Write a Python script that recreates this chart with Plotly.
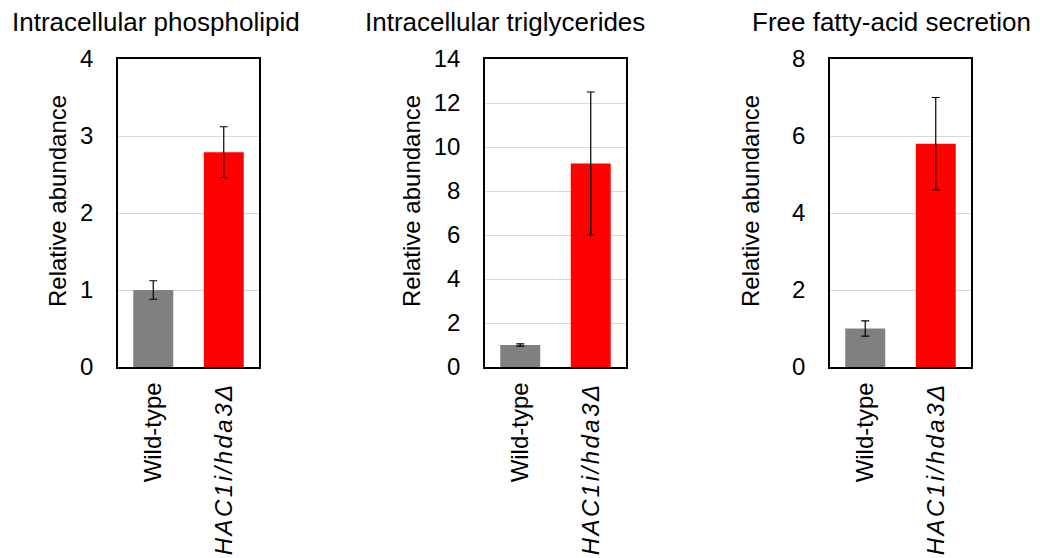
import plotly.graph_objects as go

categories = ["Wild-type", "<span style='letter-spacing:2.5px'><i>HAC1i/hda3Δ</i></span>"]
titles = ["Intracellular phospholipid", "Intracellular triglycerides", "Free fatty-acid secretion"]
y_title = "Relative abundance"
values = [
    [1.0, 2.79],
    [1.0, 9.25],
    [1.0, 5.8],
]
errors = [
    [0.12, 0.33],
    [0.05, 3.25],
    [0.2, 1.2],
]
y_max = [4, 14, 8]
y_dtick = [1, 2, 2]
colors = ["#808080", "#ff0000"]

W, H = 1040, 558
x_dom = [(118, 259), (485, 626), (830, 971)]
y_dom = (1 - 367 / H, 1 - 59 / H)
title_x = [156, 505, 891]
ytitle_x = [57, 411, 750]

font_family = "Liberation Sans, Arial, sans-serif"
fig = go.Figure()
for i in range(3):
    xa = "x" if i == 0 else f"x{i+1}"
    ya = "y" if i == 0 else f"y{i+1}"
    fig.add_trace(go.Bar(
        x=categories, y=values[i],
        marker=dict(color=colors, line=dict(width=0)),
        error_y=dict(type="data", array=errors[i], color="black", thickness=1.2, width=4),
        xaxis=xa, yaxis=ya, showlegend=False, width=0.567,
    ))
    xkey = "xaxis" if i == 0 else f"xaxis{i+1}"
    ykey = "yaxis" if i == 0 else f"yaxis{i+1}"
    fig.layout[xkey] = dict(
        domain=[x_dom[i][0] / W, x_dom[i][1] / W], anchor=ya, automargin=False,
        tickangle=-90, showline=True, linecolor="black", linewidth=1.5, mirror=True,
        ticks="", ticklabelstandoff=4,
        tickfont=dict(size=24, color="black", family=font_family),
        showgrid=False, fixedrange=True,
    )
    fig.layout[ykey] = dict(
        domain=list(y_dom), anchor=xa, range=[0, y_max[i]], dtick=y_dtick[i], automargin=False,
        showline=True, linecolor="black", linewidth=1.5, mirror=True,
        ticks="", ticklabelstandoff=18,
        tickfont=dict(size=24, color="black", family=font_family),
        showgrid=True, gridcolor="#d9d9d9", gridwidth=1, zeroline=False,
        fixedrange=True,
    )
    fig.add_annotation(
        text=titles[i], x=title_x[i] / W, y=1 - 22 / H, xref="paper", yref="paper",
        showarrow=False, font=dict(size=26, color="black", family=font_family),
        xanchor="center", yanchor="middle",
    )
    fig.add_annotation(
        text=y_title, x=ytitle_x[i] / W, y=1 - 201 / H, xref="paper", yref="paper",
        showarrow=False, textangle=-90, font=dict(size=24, color="black", family=font_family),
        xanchor="center", yanchor="middle",
    )

fig.update_layout(
    width=W, height=H, margin=dict(l=0, r=0, t=0, b=0, autoexpand=False),
    plot_bgcolor="white", paper_bgcolor="white",
    font=dict(family=font_family, color="black"),
)
fig.write_html("out.html", config={"displayModeBar": False},
               post_script="document.body.style.margin='0px';")
